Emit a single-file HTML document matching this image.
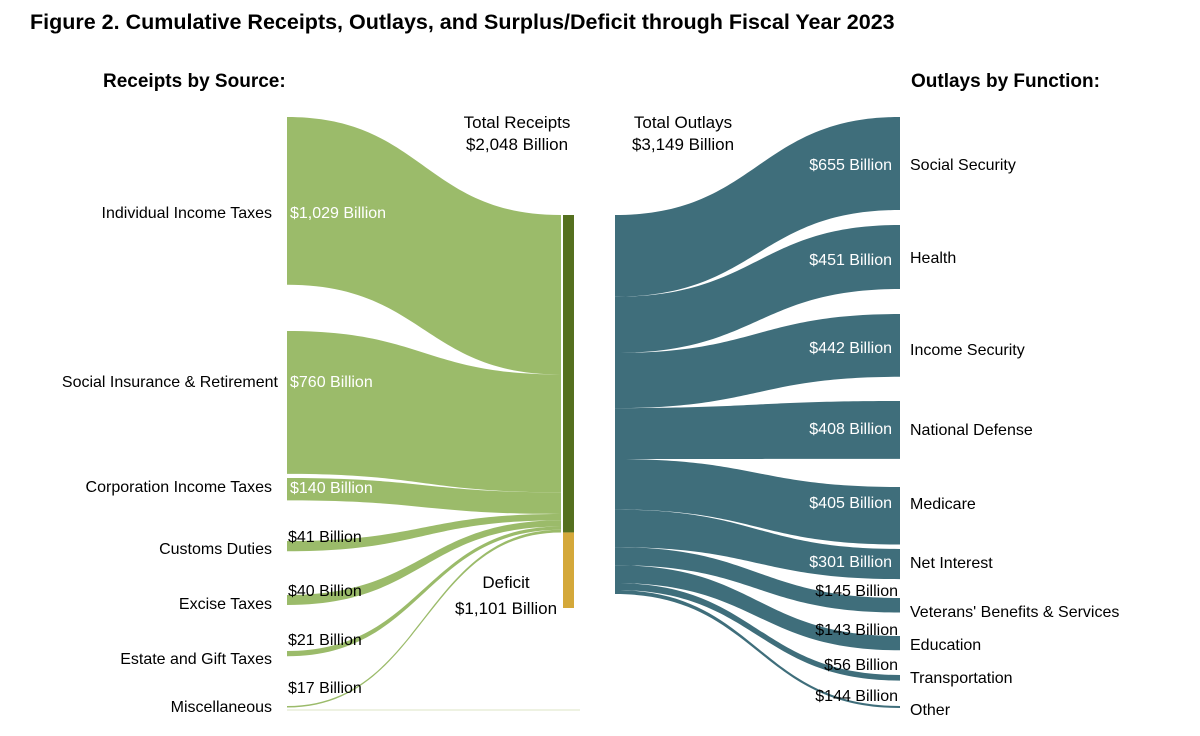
<!DOCTYPE html>
<html><head><meta charset="utf-8"><style>
body{margin:0;background:#fff;}
svg{display:block;font-family:"Liberation Sans",Arial,sans-serif;}
</style></head><body>
<svg id="chart" width="1200" height="736" viewBox="0 0 1200 736">
<text x="30" y="29" font-size="21.5" font-weight="bold" fill="#000">Figure 2. Cumulative Receipts, Outlays, and Surplus/Deficit through Fiscal Year 2023</text>
<text x="103" y="87" font-size="19" font-weight="bold">Receipts by Source:</text>
<text x="911" y="87" font-size="19" font-weight="bold">Outlays by Function:</text>
<text x="517" y="128" font-size="17" text-anchor="middle">Total Receipts</text>
<text x="517" y="150" font-size="17" text-anchor="middle">$2,048 Billion</text>
<text x="683" y="128" font-size="17" text-anchor="middle">Total Outlays</text>
<text x="683" y="150" font-size="17" text-anchor="middle">$3,149 Billion</text>
<text x="506" y="588" font-size="17" text-anchor="middle">Deficit</text>
<text x="506" y="614" font-size="17" text-anchor="middle">$1,101 Billion</text>
<g id="flows"></g>
<g id="labels"></g>
</svg>
<script>
const receiptNames = ["Individual Income Taxes","Social Insurance & Retirement","Corporation Income Taxes","Customs Duties","Excise Taxes","Estate and Gift Taxes","Miscellaneous"];
const receiptValues = [1029,760,140,41,40,21,17];
const outlayNames = ["Social Security","Health","Income Security","National Defense","Medicare","Net Interest","Veterans' Benefits & Services","Education","Transportation","Other"];
const outlayValues = [655,451,442,408,405,301,145,143,56,144];
const deficitValue = 1101;

const NS="http://www.w3.org/2000/svg";
const flowsG=document.getElementById('flows'), labG=document.getElementById('labels');
const leftNodeTops=[117,331,478,541,595,651,706];
const leftNameY=[218,387,492,554,609,664,712];
const leftValY=[218,387,493,542,596,645,693];
const rightNodeTops=[117,225,314,401,487,549,598,636,675,706];
const rightNameY=[170,263,355,435,509,568,617,650,683,715];
const rightValY=[170,265,353,434,508,567,596,635,670,701];
const centerTop=215, centerBottom=608;
const totalOut=outlayValues.reduce((a,b)=>a+b,0);
const outScale=(centerBottom-centerTop)/totalOut;
const recScale=0.155;
const leftEndScale=v=>Math.max(1.5, v>=900 ? v*0.163 : (v>=500 ? v*0.188 : (v>=100 ? v*0.16 : v*0.25)));
const rightEndScale=v=>Math.max(2, v>=400 ? v*0.142 : v*0.1);
function ribbon(x0,t0,h0,x1,t1,h1,color,name){
  const m=(x0+x1)/2;
  const d=`M${x0},${t0} C${m},${t0} ${m},${t1} ${x1},${t1} L${x1},${t1+h1} C${m},${t1+h1} ${m},${t0+h0} ${x0},${t0+h0} Z`;
  const p=document.createElementNS(NS,'path');
  p.setAttribute('d',d);p.setAttribute('fill',color);
  
  
  flowsG.appendChild(p);
}
function text(x,y,s,anchor,color,name){
  const t=document.createElementNS(NS,'text');
  t.setAttribute('x',x);t.setAttribute('y',y);t.setAttribute('font-size','16');
  t.setAttribute('text-anchor',anchor);t.setAttribute('fill',color);t.textContent=s;
  
  
  labG.appendChild(t);
}
let cy=centerTop;
receiptValues.forEach((v,i)=>{
  let h0=leftEndScale(v);
  const h1=v*recScale, t0=leftNodeTops[i];
  if(i===receiptValues.length-1) h0=1.5;
  ribbon(287,t0,h0,561,cy,h1,'#9bbb6a','receipt-flow-'+i);
  text(i===1?278:272,leftNameY[i],receiptNames[i],'end','#000','receipt-name-'+i);
  const inside=h0>15;
  text(inside?290:288,leftValY[i],'$'+v.toLocaleString('en-US')+' Billion','start',inside?'#fff':'#000','receipt-value-'+i);
  cy+=h1;
});
const recBottom=cy;
const ln=document.createElementNS(NS,'line');
ln.setAttribute('x1',287);ln.setAttribute('x2',580);ln.setAttribute('y1',710);ln.setAttribute('y2',710);
ln.setAttribute('stroke','#e8edd8');ln.setAttribute('stroke-width','1.5');


flowsG.appendChild(ln);
const rb=document.createElementNS(NS,'rect');
rb.setAttribute('x',563);rb.setAttribute('y',centerTop);rb.setAttribute('width',11);rb.setAttribute('height',recBottom-centerTop);rb.setAttribute('fill','#55701f');


flowsG.appendChild(rb);
const db=document.createElementNS(NS,'rect');
db.setAttribute('x',563);db.setAttribute('y',recBottom);db.setAttribute('width',11);db.setAttribute('height',Math.max(0,centerBottom-recBottom));db.setAttribute('fill','#d4a83a');


flowsG.appendChild(db);
cy=centerTop;
outlayValues.forEach((v,i)=>{
  let h0=v*outScale, h1=rightEndScale(v);
  const t1=rightNodeTops[i];
  if(i===outlayValues.length-1){h0=Math.min(h0,4);h1=2;}
  ribbon(615,cy,h0,900,t1,h1,'#3f6e7b','outlay-flow-'+i);
  text(910,rightNameY[i],outlayNames[i],'start','#000','outlay-name-'+i);
  const inside=h1>25;
  text(inside?892:898,rightValY[i],'$'+v+' Billion','end',inside?'#fff':'#000','outlay-value-'+i);
  cy+=h0;
});
</script>
</body></html>
